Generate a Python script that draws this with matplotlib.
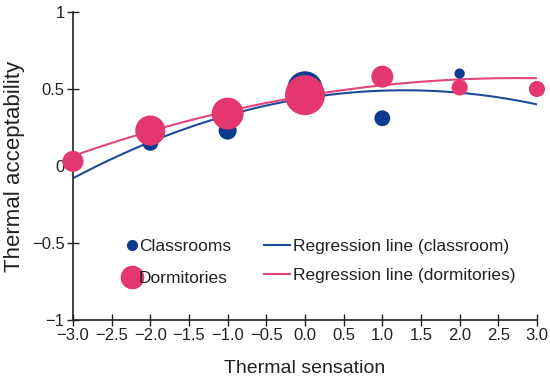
import numpy as np
import matplotlib
matplotlib.use("Agg")
import matplotlib.pyplot as plt
from matplotlib.lines import Line2D

plt.rcParams['font.family'] = ['Liberation Sans', 'DejaVu Sans']

# Data
sensation = [-3, -2, -1, 0, 1, 2, 3]
class_accept = [0.02, 0.15, 0.23, 0.50, 0.31, 0.60, 0.50]
class_size = [100, 130, 170, 650, 130, 55, 75]
dorm_accept = [0.03, 0.23, 0.34, 0.46, 0.58, 0.51, 0.50]
dorm_size = [230, 470, 530, 830, 250, 135, 135]
# regression curve values read at integer sensations
class_curve = [-0.08, 0.156, 0.329, 0.44, 0.489, 0.476, 0.40]
dorm_curve = [0.065, 0.226, 0.356, 0.455, 0.524, 0.562, 0.57]

xticks = [-3.0, -2.5, -2.0, -1.5, -1.0, -0.5, 0.0, 0.5, 1.0, 1.5, 2.0, 2.5, 3.0]
yticks = [-1, -0.5, 0, 0.5, 1]
ytick_labels = ['\u22121', '\u22120.5', '0', '0.5', '1']

blue = '#0b3a8f'
pink = '#e5376f'
blue_line = '#1d4b98'
pink_line = '#e0467c'

fig = plt.figure(figsize=(5.5, 3.84), dpi=100)
ax = fig.add_axes([0.1327, 0.1667, 0.8436, 0.8021])

xs = np.linspace(-3, 3, 200)
cc = np.polyfit(sensation, class_curve, 2)
dc = np.polyfit(sensation, dorm_curve, 2)
ax.plot(xs, np.polyval(cc, xs), color=blue_line, lw=1.5, zorder=2)
ax.plot(xs, np.polyval(dc, xs), color=pink_line, lw=1.5, zorder=2)
ax.scatter(sensation, class_accept, s=class_size, color=blue, zorder=3, linewidths=0, clip_on=False)
ax.scatter(sensation, dorm_accept, s=dorm_size, color=pink, zorder=4, linewidths=0, clip_on=False)

ax.set_xlim(-3, 3)
ax.set_ylim(-1, 1)
ax.set_xticks(xticks)
ax.set_xticklabels([f'{t:.1f}'.replace('-', '\u2212') for t in xticks])
ax.set_yticks(yticks)
ax.set_yticklabels(ytick_labels)
ax.tick_params(direction='inout', length=8, width=1, labelsize=12, colors='#222222', pad=2)
for s in ['top', 'right']:
    ax.spines[s].set_visible(False)
for s in ['left', 'bottom']:
    ax.spines[s].set_color('#222222')
    ax.spines[s].set_linewidth(1.2)

ax.set_xlabel('Thermal sensation', fontsize=14, color='#222222', labelpad=12)
ax.set_ylabel('Thermal acceptability', fontsize=16, color='#222222', labelpad=5)

h1 = [Line2D([], [], marker='o', ls='', color=blue, markersize=7),
      Line2D([], [], marker='o', ls='', color=pink, markersize=16)]
leg1 = ax.legend(h1, ['Classrooms', 'Dormitories'], loc='upper left',
                 bbox_to_anchor=(0.114, 0.262), frameon=False, fontsize=12.5,
                 handlelength=0.7, handletextpad=0.05, labelspacing=0.95, borderpad=0,
                 borderaxespad=0)
for t in leg1.get_texts():
    t.set_color('#222222')
ax.add_artist(leg1)
h2 = [Line2D([], [], color=blue_line, lw=1.5), Line2D([], [], color=pink_line, lw=1.5)]
leg2 = ax.legend(h2, ['Regression line (classroom)', 'Regression line (dormitories)'],
                 loc='upper left', bbox_to_anchor=(0.412, 0.262), frameon=False, fontsize=12.5,
                 handlelength=1.5, handletextpad=0.15, labelspacing=0.8, borderpad=0,
                 borderaxespad=0)
for t in leg2.get_texts():
    t.set_color('#222222')

fig.savefig('out.png', dpi=100)
